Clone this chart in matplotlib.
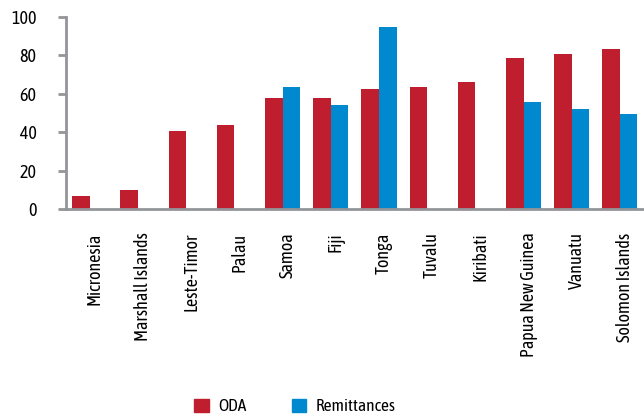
import matplotlib
matplotlib.use("Agg")
import matplotlib.pyplot as plt
import matplotlib.transforms as mtransforms
from matplotlib.patches import Patch
import numpy as np

plt.rcParams['font.family'] = ['Asap Condensed', 'DejaVu Sans']

categories = ["Micronesia", "Marshall Islands", "Leste-Timor", "Palau", "Samoa", "Fiji",
              "Tonga", "Tuvalu", "Kiribati", "Papua New Guinea", "Vanuatu", "Solomon Islands"]
oda = [6.5, 10, 40.5, 44, 58, 58, 62.5, 63.5, 66, 78.5, 81, 83.5]
remittances = [np.nan, np.nan, np.nan, np.nan, 63.5, 54, 95, np.nan, np.nan, 55.5, 52, 49.5]
yticks = [0, 20, 40, 60, 80, 100]

red = "#BE1E2D"
blue = "#0089CF"
grey = "#939598"

fig = plt.figure(figsize=(6.44, 4.17), dpi=100)
ax = fig.add_axes([0.102, 0.499, 0.898, 0.460])

x = np.arange(len(categories))
w = 0.365
ax.bar(x - w / 2, oda, width=w, color=red, label="ODA")
ax.bar(x + w / 2, remittances, width=w, color=blue, label="Remittances")

ax.set_xlim(-0.5, len(categories) - 0.5)
ax.set_ylim(0, 100)
ax.set_yticks(yticks)
ax.set_yticklabels([str(v) for v in yticks], fontsize=13)
ax.set_xticks(x)
ax.set_xticklabels(categories, rotation=90, fontsize=13, va="top", ha="center")

for s in ["top", "right"]:
    ax.spines[s].set_visible(False)
for s in ["left", "bottom"]:
    ax.spines[s].set_color(grey)
    ax.spines[s].set_linewidth(2)
ax.tick_params(axis="y", length=6, width=2, color=grey, pad=15)
ax.tick_params(axis="x", length=0, pad=17)

offset = mtransforms.ScaledTranslation(5 / 100, 0, fig.dpi_scale_trans)
for lbl in ax.get_xticklabels():
    lbl.set_transform(lbl.get_transform() + offset)

handles = [Patch(color=red, label="ODA"), Patch(color=blue, label="Remittances")]
fig.legend(handles=handles, loc="center", bbox_to_anchor=(0.458, 0.024), ncol=2,
           frameon=False, fontsize=12.5, handlelength=0.85, handleheight=0.85,
           handletextpad=0.55, columnspacing=2.6)

fig.savefig("out.png", dpi=100)
